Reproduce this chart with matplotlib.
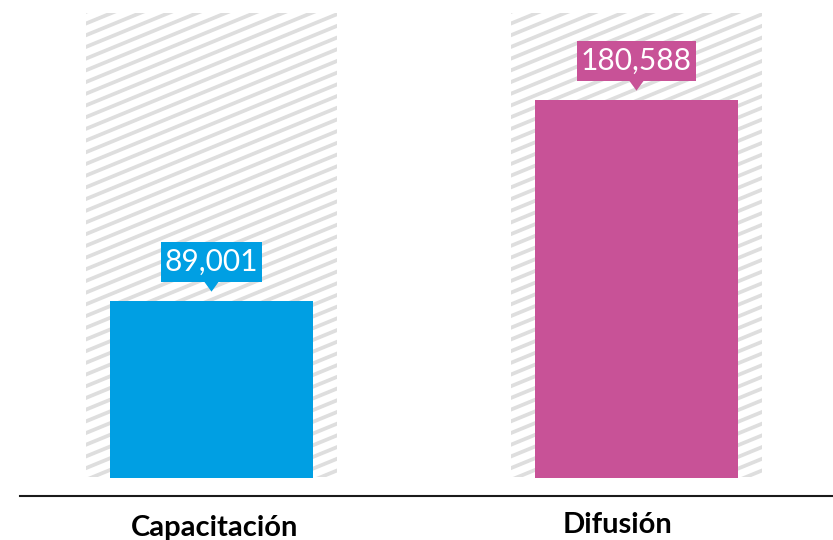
import matplotlib.pyplot as plt
import numpy as np
from matplotlib.patches import Rectangle, Polygon
from matplotlib.collections import LineCollection
from matplotlib.transforms import blended_transform_factory

categories = ['Capacitación', 'Difusión']
values = [89001, 180588]
colors = ['#009fe3', '#c85297']
scale_max = 220000

W, H = 833, 540
fig = plt.figure(figsize=(W / 100, H / 100), dpi=100)
# axes: left edge at 20 px, zero line at 496 px from top, top at the figure edge
ax = fig.add_axes([20 / W, 44 / H, 813 / W, 496 / H])
ax.set_xlim(-0.4506, 1.4624)
ax.set_ylim(0, 226000)

to_data = ax.transData.inverted()

def px(points):
    # points in display pixels -> data coords
    return to_data.transform(np.array(points, dtype=float))

x = np.arange(len(categories))

# striped background columns up to the scale maximum
for xi in x:
    bg = Rectangle((xi - 0.295, 8600), 0.59, scale_max - 8600, fc='none', ec='none')
    ax.add_patch(bg)
    (x0, y0), (x1, y1) = ax.transData.transform([(xi - 0.295, 0), (xi + 0.295, scale_max)])
    slope = 0.41
    step = 11.7
    segs = []
    for c in np.arange(y0 - slope * (x1 - x0) - step, y1 + step, step):
        segs.append(px([(x0 - 5, c), (x1 + 5, c + slope * (x1 - x0 + 10))]))
    lc = LineCollection(segs, colors='#dedede', linewidths=2.7, capstyle='butt', zorder=1)
    ax.add_collection(lc)
    lc.set_clip_path(bg)

ax.bar(x, values, width=0.478, color=colors, zorder=2)

# white gap between the bars and the axis line
ax.axhspan(0, 8200, color='white', zorder=3, lw=0)

# value callouts: box + pointer
renderer = fig.canvas.get_renderer()
for xi, v, col in zip(x, values, colors):
    bx, by = ax.transData.transform((xi, v))
    tip = by + 9
    base = tip + 10
    tri = Polygon(px([(bx - 8, base + 1), (bx + 8, base + 1), (bx, tip)]), closed=True,
                  fc=col, ec='none', zorder=4)
    ax.add_patch(tri)
    cy = base + 20
    (tx, ty), = px([(bx, cy)])
    t = ax.text(tx, ty, f'{v:,}', ha='center', va='center', color='white',
                fontsize=21.5, family='Lato', zorder=6)
    ext = t.get_window_extent(renderer)
    half = ext.width / 2 + 4
    (l, b), (r, tp) = px([(bx - half, base), (bx + half, base + 40)])
    ax.add_patch(Rectangle((l, b), r - l, tp - b, fc=col, ec='none', zorder=5))

# category labels under the axis line
trans = blended_transform_factory(ax.transData, ax.transAxes)
label_dx = [0.007, -0.045]
label_y = [-0.0806, -0.0746]
for xi, lab, dx, ly in zip(x, categories, label_dx, label_y):
    ax.text(xi + dx, ly, lab, transform=trans, ha='center', va='baseline',
            fontsize=21, fontweight='bold', family='Lato', color='black')

for s in ['top', 'right', 'left']:
    ax.spines[s].set_visible(False)
ax.spines['bottom'].set_linewidth(1.5)
ax.spines['bottom'].set_color('#1a1a1a')
ax.spines['bottom'].set_zorder(7)
ax.set_xticks([])
ax.set_yticks([])

fig.savefig('out.png', dpi=100)
